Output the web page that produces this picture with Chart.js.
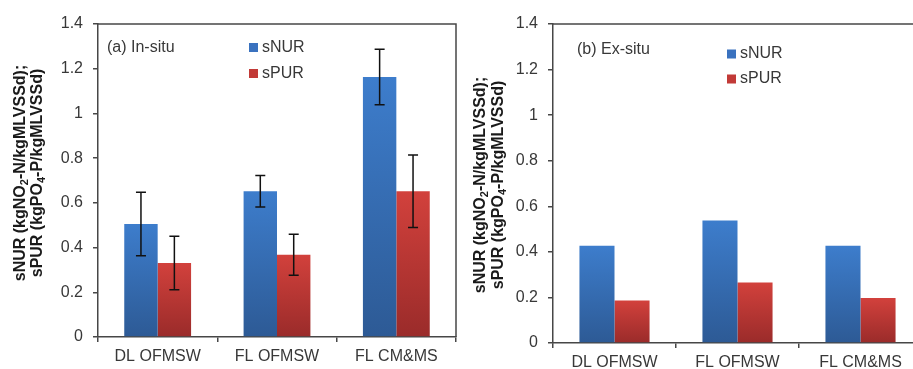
<!DOCTYPE html>
<html>
<head>
<meta charset="utf-8">
<script src="https://cdn.jsdelivr.net/npm/chart.js@4.4.1/dist/chart.umd.min.js"></script>
<style>
  html, body { margin:0; padding:0; background:#fff; width:913px; height:369px; overflow:hidden; position:relative; }
  canvas { position:absolute; top:0; }
  #c1 { left:0; }
  #c2 { left:460px; }
</style>
</head>
<body>
<canvas id="c1" width="460" height="369"></canvas>
<canvas id="c2" width="470" height="369"></canvas>
<script>
// ---- data ----
const categories = ['DL OFMSW', 'FL OFMSW', 'FL CM&MS'];
const seriesNames = ['sNUR', 'sPUR'];
const inSituNUR = [0.505, 0.652, 1.163];
const inSituPUR = [0.331, 0.368, 0.652];
const inSituNURErr = [0.142, 0.070, 0.124];
const inSituPURErr = [0.120, 0.092, 0.162];
const exSituNUR = [0.427, 0.538, 0.427];
const exSituPUR = [0.186, 0.266, 0.197];
const yTickValues = [0, 0.2, 0.4, 0.6, 0.8, 1.0, 1.2, 1.4];
const panelLabels = ['(a) In-situ', '(b) Ex-situ'];
const yTitleLine1 = [['sNUR (kgNO', false], ['2', true], ['-N/kgMLVSSd);', false]];
const yTitleLine2 = [['sPUR (kgPO', false], ['4', true], ['-P/kgMLVSSd)', false]];

Chart.defaults.font.family = "'Liberation Sans', Arial, sans-serif";
Chart.defaults.animation = false;

const AXIS = '#474747';
const TXT = '#383838';
const blueStops = ['#3d7dcc', '#2d5a95'];
const redStops = ['#d2413c', '#9a2b2a'];

function gradFill(stops) {
  return (ctx) => {
    const c = ctx.chart;
    if (!c.chartArea || ctx.raw == null) return stops[0];
    const ys = c.scales.y;
    const top = ys.getPixelForValue(ctx.raw);
    const bot = ys.getPixelForValue(0);
    const g = c.ctx.createLinearGradient(0, top, 0, bot);
    g.addColorStop(0, stops[0]);
    g.addColorStop(1, stops[1]);
    return g;
  };
}

function drawTitleLine(ctx, segs, cx, cy) {
  const big = "bold 16px 'Liberation Sans', Arial, sans-serif";
  const small = "bold 11px 'Liberation Sans', Arial, sans-serif";
  let total = 0;
  segs.forEach(([t, sub]) => { ctx.font = sub ? small : big; total += ctx.measureText(t).width; });
  ctx.save();
  ctx.translate(cx, cy);
  ctx.rotate(-Math.PI / 2);
  ctx.textBaseline = 'middle';
  ctx.textAlign = 'left';
  ctx.fillStyle = '#1a1a1a';
  let x = -total / 2;
  segs.forEach(([t, sub]) => {
    ctx.font = sub ? small : big;
    ctx.fillText(t, x, sub ? 4 : 0);
    x += ctx.measureText(t).width;
  });
  ctx.restore();
}

function makeChart(id, nur, pur, errs, cfg) {
  const overlay = {
    id: 'overlay',
    afterDatasetsDraw(chart) {
      const ctx = chart.ctx;
      const a = chart.chartArea;
      const ys = chart.scales.y;
      // error bars
      if (errs) {
        ctx.save();
        ctx.strokeStyle = '#111';
        ctx.lineWidth = 1.5;
        errs.forEach((arr, di) => {
          const meta = chart.getDatasetMeta(di);
          meta.data.forEach((el, i) => {
            const v = chart.data.datasets[di].data[i];
            const yt = ys.getPixelForValue(v + arr[i]);
            const yb = ys.getPixelForValue(v - arr[i]);
            ctx.beginPath();
            ctx.moveTo(el.x, yt); ctx.lineTo(el.x, yb);
            ctx.moveTo(el.x - 5, yt); ctx.lineTo(el.x + 5, yt);
            ctx.moveTo(el.x - 5, yb); ctx.lineTo(el.x + 5, yb);
            ctx.stroke();
          });
        });
        ctx.restore();
      }
      // box border top/right
      ctx.save();
      ctx.strokeStyle = AXIS;
      ctx.lineWidth = 1.5;
      ctx.beginPath();
      ctx.moveTo(a.left, a.top); ctx.lineTo(a.right, a.top); ctx.lineTo(a.right, a.bottom);
      ctx.stroke();
      ctx.restore();
      // panel label
      ctx.save();
      ctx.font = "16px 'Liberation Sans', Arial, sans-serif";
      ctx.fillStyle = TXT;
      ctx.textBaseline = 'middle';
      ctx.textAlign = 'left';
      ctx.fillText(cfg.label, cfg.labelX, cfg.labelY);
      // legend
      const cols = ['#3a72bf', '#c23a37'];
      chart.data.datasets.forEach((ds, i) => {
        const y = cfg.legY + i * cfg.legGap;
        ctx.fillStyle = cols[i];
        ctx.fillRect(cfg.legX, y - 4.5, 9, 9);
        ctx.fillStyle = TXT;
        ctx.fillText(ds.label, cfg.legX + 13, y);
      });
      ctx.restore();
      // y title
      drawTitleLine(ctx, yTitleLine1, cfg.t1x, cfg.ty);
      drawTitleLine(ctx, yTitleLine2, cfg.t2x, cfg.ty);
    }
  };
  return new Chart(document.getElementById(id), {
    type: 'bar',
    data: {
      labels: categories,
      datasets: [
        { label: seriesNames[0], data: nur, backgroundColor: gradFill(blueStops), borderWidth: 0,
          categoryPercentage: cfg.catPct, barPercentage: 1 },
        { label: seriesNames[1], data: pur, backgroundColor: gradFill(redStops), borderWidth: 0,
          categoryPercentage: cfg.catPct, barPercentage: 1 }
      ]
    },
    options: {
      responsive: false,
      maintainAspectRatio: false,
      animation: false,
      layout: { padding: { top: 24, right: cfg.padRight, left: 0, bottom: 0 } },
      plugins: { legend: { display: false }, tooltip: { enabled: false } },
      scales: {
        x: {
          offset: true,
          grid: { offset: true, drawOnChartArea: false, drawTicks: true, tickLength: 5, color: AXIS, lineWidth: 1.5 },
          border: { display: true, color: AXIS, width: 1.5 },
          ticks: { color: TXT, font: { size: 16 }, padding: 5, maxRotation: 0, autoSkip: false },
          afterFit(s) { s.height = cfg.xH; }
        },
        y: {
          min: 0, max: 1.4,
          afterBuildTicks(s) { s.ticks = yTickValues.map(v => ({ value: v })); },
          grid: { drawOnChartArea: false, drawTicks: true, tickLength: 5, color: AXIS, lineWidth: 1.5 },
          border: { display: true, color: AXIS, width: 1.5 },
          ticks: { color: TXT, font: { size: 16 }, padding: 10,
                   callback: (v) => String(parseFloat(Number(v).toFixed(2))) },
          afterFit(s) { s.width = cfg.yW; }
        }
      }
    },
    plugins: [overlay]
  });
}

makeChart('c1', inSituNUR, inSituPUR, [inSituNURErr, inSituPURErr], {
  label: panelLabels[0], labelX: 107, labelY: 48,
  legX: 249, legY: 47.5, legGap: 26,
  t1x: 21, t2x: 38, ty: 173,
  catPct: 0.56, padRight: 4, xH: 32, yW: 98
});
makeChart('c2', exSituNUR, exSituPUR, null, {
  label: panelLabels[1], labelX: 117, labelY: 50,
  legX: 267, legY: 54, legGap: 25,
  t1x: 21, t2x: 39, ty: 185,
  catPct: 0.57, padRight: 8, xH: 26, yW: 93
});
</script>
</body>
</html>
